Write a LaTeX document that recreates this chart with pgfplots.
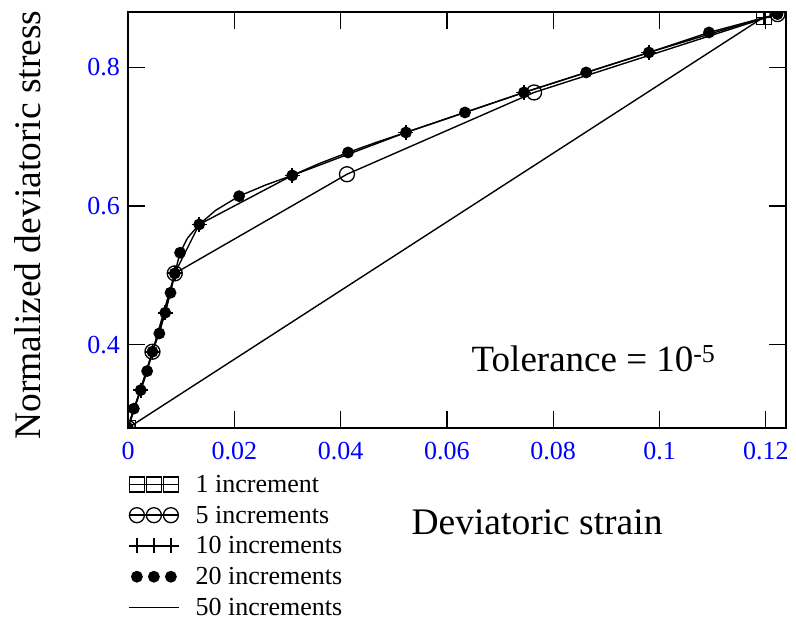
\documentclass[border=0pt]{standalone}
\usepackage{fontspec}
\setmainfont{Liberation Serif}
\usepackage{pgfplots}
\pgfplotsset{compat=1.18}
\begin{document}
\begin{tikzpicture}
\useasboundingbox (0,0) rectangle (796bp,626bp);
\begin{axis}[
 at={(128bp,198bp)}, anchor=south west,
 scale only axis, width=658bp, height=416bp,
 xmin=0, xmax=0.1238, ymin=0.28, ymax=0.88,
 xtick={0,0.02,0.04,0.06,0.08,0.1,0.12},
 xticklabels={0,0.02,0.04,0.06,0.08,0.1,0.12},
 ytick={0.4,0.6,0.8},
 yticklabels={0.4,0.6,0.8},
 tick align=inside, major tick length=17bp,
 tick style={line width=1.3bp, black},
 axis line style={line width=1.5bp},
 clip marker paths=true,
 ticklabel style={font=\fontsize{26bp}{30bp}\selectfont, text=blue, inner sep=0pt},
 xticklabel style={yshift=-14bp},
 yticklabel style={xshift=-8bp},
 xlabel={Deviatoric strain}, ylabel={Normalized deviatoric stress},
 label style={font=\fontsize{37.5bp}{40bp}\selectfont},
 xlabel style={at={(axis description cs:0.6216,-0.226)}, anchor=center},
 ylabel style={at={(axis description cs:-0.152,0.488)}, anchor=center},
 legend image code/.code={\draw[#1, mark indices={2,3,4}] plot coordinates {(0bp,0bp) (8bp,0bp) (25bp,0bp) (42bp,0bp) (50bp,0bp)};},
 legend style={at={(axis description cs:0,-0.108)}, anchor=north west, draw=none, fill=none,
   font=\fontsize{26bp}{28bp}\selectfont, row sep=8bp, column sep=14bp, inner sep=0pt,
   nodes={inner sep=2bp}},
 legend cell align=left,
 every axis plot/.append style={black, line width=1.4bp},
]
\addplot[mark=square, mark size=7.5bp, mark options={line width=1.3bp}] coordinates {
(0,0.28) (0.1197,0.873)};
\addlegendentry{1 increment}
\addplot[mark=o, mark size=7.5bp, mark options={line width=1.3bp}] coordinates {
(0,0.28) (0.0046,0.3900) (0.0088,0.5030) (0.0412,0.6460) (0.0764,0.7640) (0.1222,0.8770)};
\addlegendentry{5 increments}
\addplot[mark=+, mark size=7.5bp, mark options={line width=1.8bp}] coordinates {
(0,0.28) (0.0024,0.3347) (0.0046,0.3900) (0.0070,0.4463) (0.0088,0.5030) (0.0134,0.5736)
(0.0309,0.6443) (0.0523,0.7063) (0.0745,0.7640) (0.0980,0.8216) (0.1197,0.8720)};
\addlegendentry{10 increments}
\addplot[only marks, mark=*, mark size=5.2bp] coordinates {
(0,0.28) (0.0011,0.3079) (0.0024,0.3347) (0.0036,0.3621) (0.0046,0.3900) (0.0059,0.4164)
(0.0070,0.4463) (0.0080,0.4751) (0.0088,0.5030) (0.0098,0.5328) (0.0134,0.5736)
(0.0209,0.6144) (0.0309,0.6443) (0.0414,0.6774) (0.0523,0.7063) (0.0634,0.7351)
(0.0745,0.7640) (0.0862,0.7928) (0.0980,0.8216) (0.1093,0.8505) (0.1222,0.8770)};
\addlegendentry{20 increments}
\addplot[no marks] coordinates {
(0,0.28) (0.0005,0.294) (0.0011,0.3079) (0.0017,0.321) (0.0024,0.3347) (0.0030,0.348)
(0.0036,0.3621) (0.0041,0.376) (0.0046,0.3900) (0.0052,0.403) (0.0059,0.4164) (0.0064,0.431)
(0.0070,0.4463) (0.0075,0.461) (0.0080,0.4751) (0.0084,0.489) (0.0088,0.5030) (0.0093,0.518)
(0.0098,0.5328) (0.0112,0.5540) (0.0134,0.5736) (0.0165,0.5940) (0.0209,0.6144)
(0.0259,0.6305) (0.0309,0.6443) (0.0360,0.6615) (0.0414,0.6774) (0.0468,0.6922)
(0.0523,0.7063) (0.0634,0.7351) (0.0745,0.7640) (0.0862,0.7928) (0.0980,0.8216)
(0.1093,0.8505) (0.1222,0.8770)};
\addlegendentry{50 increments}
\node[anchor=base west, font=\fontsize{37bp}{40bp}\selectfont] at (axis cs:0.0640,0.3616) {Tolerance = 10\textsuperscript{-5}};
\end{axis}
\end{tikzpicture}
\end{document}
